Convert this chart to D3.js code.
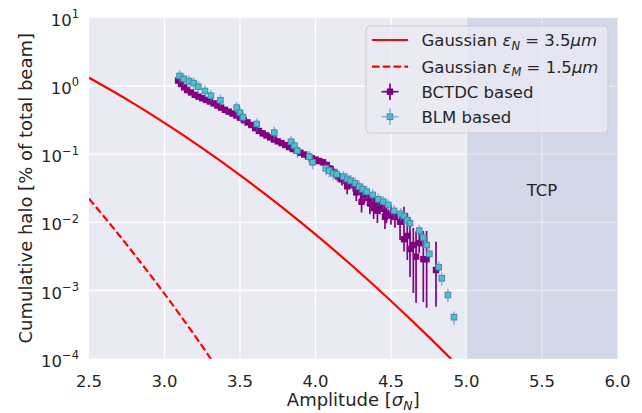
<!DOCTYPE html>
<html>
<head>
<meta charset="utf-8">
<script src="https://cdn.jsdelivr.net/npm/d3@7"></script>
<style>
    body { margin: 0; background: #fff; }
    svg text { font-family: "DejaVu Sans", sans-serif; fill: #262626; }
</style>
</head>
<body>
<svg id="chart" width="642" height="413"></svg>
<script>
// Gaussian reference curves
let gaussAmp = [2.5, 2.75, 3.0, 3.25, 3.5, 3.75, 4.0, 4.25, 4.5, 4.75, 5.0];
let gaussN = [1.32, 0.635, 0.287, 0.1226, 0.0492, 0.0186, 0.00664, 0.00223, 0.000703, 0.000209, 0.0000587];
let gaussMAmp = [2.5, 2.6, 2.7, 2.8, 2.9, 3.0, 3.1, 3.2, 3.3, 3.35];
let gaussM = [0.0222, 0.0121, 0.00648, 0.00341, 0.00176, 0.000895, 0.000447, 0.000219, 0.000105, 0.0000728];

// BCTDC based halo
let bctdcAmp = [
    3.090, 3.110, 3.130, 3.150, 3.175, 3.200, 3.225, 3.250, 3.275, 3.300,
    3.325, 3.350, 3.375, 3.400, 3.425, 3.450, 3.475, 3.500, 3.525, 3.550,
    3.575, 3.600, 3.625, 3.650, 3.675, 3.700, 3.725, 3.750, 3.775, 3.800,
    3.825, 3.850, 3.875, 3.900, 3.925, 3.950, 3.975, 4.000, 4.025, 4.050,
    4.075, 4.100, 4.125, 4.150, 4.175, 4.200, 4.210, 4.225, 4.250, 4.270,
    4.275, 4.300, 4.305, 4.325, 4.350, 4.360, 4.375, 4.385, 4.400, 4.410,
    4.425, 4.450, 4.460, 4.470, 4.500, 4.526, 4.560, 4.586, 4.608, 4.626,
    4.648, 4.666, 4.687, 4.714, 4.736, 4.798];
let bctdcHalo = [
    1.20, 1.07, 0.955, 0.871, 0.804, 0.741, 0.697, 0.661, 0.624, 0.592,
    0.556, 0.516, 0.481, 0.447, 0.420, 0.394, 0.369, 0.343, 0.316, 0.292,
    0.268, 0.241, 0.219, 0.202, 0.188, 0.176, 0.164, 0.154, 0.145, 0.136,
    0.127, 0.119, 0.112, 0.105, 0.0989, 0.0927, 0.0871, 0.0832, 0.0794, 0.0759,
    0.0692, 0.0610, 0.0537, 0.0473, 0.0427, 0.0403, 0.0339, 0.0376, 0.0351, 0.0275,
    0.0316, 0.0282, 0.0200, 0.0251, 0.0229, 0.0191, 0.0214, 0.0162, 0.0197, 0.0148,
    0.0181, 0.0158, 0.0120, 0.0138, 0.0126, 0.0120, 0.0102, 0.00565, 0.00632, 0.00407,
    0.00467, 0.00314, 0.00494, 0.00288, 0.00288, 0.00200];
let bctdcErrLo = [
    0.10, 0.09, 0.08, 0.07, 0.06, 0.06, 0.05, 0.05, 0.05, 0.05,
    0.04, 0.04, 0.04, 0.04, 0.03, 0.03, 0.03, 0.03, 0.03, 0.02,
    0.02, 0.02, 0.02, 0.02, 0.015, 0.015, 0.014, 0.013, 0.012, 0.012,
    0.011, 0.010, 0.010, 0.009, 0.009, 0.008, 0.008, 0.008, 0.008, 0.008,
    0.008, 0.009, 0.009, 0.008, 0.008, 0.008, 0.008, 0.007, 0.007, 0.007,
    0.007, 0.007, 0.006, 0.006, 0.006, 0.006, 0.006, 0.005, 0.005, 0.005,
    0.005, 0.005, 0.004, 0.0041, 0.0034, 0.0037, 0.0047, 0.00193, 0.00351, 0.00249,
    0.00375, 0.00248, 0.00138, 0.00220, 0.00232, 0.00142];
let bctdcErrHi = [
    0.12, 0.10, 0.09, 0.08, 0.07, 0.07, 0.06, 0.06, 0.06, 0.05,
    0.05, 0.05, 0.04, 0.04, 0.04, 0.04, 0.03, 0.03, 0.03, 0.03,
    0.02, 0.02, 0.02, 0.02, 0.02, 0.015, 0.015, 0.014, 0.013, 0.012,
    0.012, 0.011, 0.010, 0.010, 0.009, 0.009, 0.008, 0.008, 0.008, 0.008,
    0.008, 0.008, 0.008, 0.007, 0.007, 0.007, 0.007, 0.006, 0.006, 0.006,
    0.006, 0.006, 0.005, 0.005, 0.005, 0.005, 0.005, 0.005, 0.004, 0.004,
    0.004, 0.004, 0.004, 0.0032, 0.0054, 0.0032, 0.0026, 0.0113, 0.0074, 0.0075,
    0.0036, 0.0042, 0.0024, 0.0046, 0.0046, 0.0032];

// BLM based halo
let blmAmp = [
    3.100, 3.127, 3.162, 3.193, 3.224, 3.268, 3.308, 3.370, 3.478, 3.500,
    3.520, 3.611, 3.727, 3.838, 3.860, 3.880, 3.959, 3.981, 4.068, 4.091,
    4.118, 4.140, 4.184, 4.211, 4.233, 4.262, 4.290, 4.313, 4.339, 4.379,
    4.416, 4.449, 4.482, 4.520, 4.564, 4.586, 4.608, 4.626, 4.687, 4.714,
    4.736, 4.754, 4.816, 4.836, 4.877, 4.917];
let blmHalo = [
    1.40, 1.27, 1.18, 1.10, 0.977, 0.845, 0.721, 0.617, 0.481, 0.406,
    0.348, 0.277, 0.207, 0.152, 0.133, 0.112, 0.0919, 0.0760, 0.0621, 0.0573,
    0.0525, 0.0507, 0.0468, 0.0433, 0.0408, 0.0374, 0.0334, 0.0306, 0.0282, 0.0252,
    0.0218, 0.0201, 0.0180, 0.0147, 0.0133, 0.0124, 0.0108, 0.0097, 0.00755, 0.00597,
    0.00467, 0.00344, 0.00220, 0.00151, 0.000861, 0.000406];
let blmErr = [
    0.30, 0.27, 0.25, 0.23, 0.21, 0.18, 0.15, 0.13, 0.10, 0.09,
    0.075, 0.06, 0.045, 0.033, 0.029, 0.024, 0.020, 0.016, 0.013, 0.012,
    0.011, 0.011, 0.010, 0.0093, 0.0088, 0.0080, 0.0072, 0.0066, 0.0061, 0.0054,
    0.0047, 0.0043, 0.0039, 0.0032, 0.0029, 0.0027, 0.0023, 0.0021, 0.0016, 0.0013,
    0.0010, 0.00074, 0.00047, 0.00033, 0.00019, 0.000088];

let xTicks = [2.5, 3.0, 3.5, 4.0, 4.5, 5.0, 5.5, 6.0];
let yTicks = [1e-4, 1e-3, 1e-2, 1e-1, 1e0, 1e1];
let yTickExp = ["\u22124", "\u22123", "\u22122", "\u22121", "0", "1"];

let svg = d3.select("#chart");
let plot = { left: 89, right: 617.5, top: 17.8, bottom: 358.7 };

let x = d3.scaleLinear().domain([2.5, 6.0]).range([plot.left, plot.right]);
let y = d3.scaleLog().domain([1e-4, 10]).range([plot.bottom, plot.top]);

svg.append("defs").append("clipPath").attr("id", "clip")
    .append("rect")
    .attr("x", plot.left).attr("y", plot.top)
    .attr("width", plot.right - plot.left).attr("height", plot.bottom - plot.top);

// background
svg.append("rect")
    .attr("x", plot.left).attr("y", plot.top)
    .attr("width", plot.right - plot.left).attr("height", plot.bottom - plot.top)
    .attr("fill", "#eaeaf2");

// grid
let grid = svg.append("g").attr("stroke", "#fff").attr("stroke-width", 1.3);
grid.selectAll(".vg").data(xTicks.slice(1, -1)).enter().append("line")
    .attr("x1", d => x(d)).attr("x2", d => x(d))
    .attr("y1", plot.top).attr("y2", plot.bottom);
grid.selectAll(".hg").data(yTicks.slice(1, -1)).enter().append("line")
    .attr("x1", plot.left).attr("x2", plot.right)
    .attr("y1", d => y(d)).attr("y2", d => y(d));

// TCP region
svg.append("rect")
    .attr("x", x(5.0)).attr("y", plot.top)
    .attr("width", x(6.0) - x(5.0)).attr("height", plot.bottom - plot.top)
    .attr("fill", "#4c72b0").attr("fill-opacity", 0.15);

svg.append("text")
    .attr("x", x(5.5)).attr("y", y(0.03) + 6)
    .attr("text-anchor", "middle").attr("font-size", 16.5)
    .text("TCP");

let inner = svg.append("g").attr("clip-path", "url(#clip)");

// gaussian curves
let line = d3.line().x(d => x(d[0])).y(d => y(d[1])).curve(d3.curveMonotoneX);

inner.append("path")
    .datum(d3.zip(gaussAmp, gaussN))
    .attr("d", line)
    .attr("fill", "none").attr("stroke", "#ff0000").attr("stroke-width", 2.2);

inner.append("path")
    .datum(d3.zip(gaussMAmp, gaussM))
    .attr("d", line)
    .attr("fill", "none").attr("stroke", "#ff0000").attr("stroke-width", 2.2)
    .attr("stroke-dasharray", "7.5,3.3");

// BCTDC error bars + markers
let bctdc = bctdcAmp.map((a, i) => ({ a: a, v: bctdcHalo[i], lo: bctdcErrLo[i], hi: bctdcErrHi[i] }));

inner.append("g").selectAll("line").data(bctdc).enter().append("line")
    .attr("x1", d => x(d.a)).attr("x2", d => x(d.a))
    .attr("y1", d => y(d.v + d.hi))
    .attr("y2", d => y(Math.max(d.v - d.lo, 1e-6)))
    .attr("stroke", "#800080").attr("stroke-width", 1.7);

inner.append("g").selectAll("rect").data(bctdc).enter().append("rect")
    .attr("x", d => x(d.a) - 3.2).attr("y", d => y(d.v) - 3.2)
    .attr("width", 6.4).attr("height", 6.4)
    .attr("fill", "#800080");

// BLM error bars + markers
let blm = blmAmp.map((a, i) => ({ a: a, v: blmHalo[i], e: blmErr[i] }));

inner.append("g").selectAll("line").data(blm).enter().append("line")
    .attr("x1", d => x(d.a)).attr("x2", d => x(d.a))
    .attr("y1", d => y(d.v + d.e))
    .attr("y2", d => y(d.v - d.e))
    .attr("stroke", "#4c72b0").attr("stroke-opacity", 0.5).attr("stroke-width", 1.6);

inner.append("g").selectAll("rect").data(blm).enter().append("rect")
    .attr("x", d => x(d.a) - 2.8).attr("y", d => y(d.v) - 2.8)
    .attr("width", 5.6).attr("height", 5.6)
    .attr("fill", "#48c3c6").attr("stroke", "#4a86b4").attr("stroke-width", 1);

// tick labels
svg.append("g").selectAll("text").data(xTicks).enter().append("text")
    .attr("x", d => x(d)).attr("y", plot.bottom + 28)
    .attr("text-anchor", "middle").attr("font-size", 16.5)
    .text(d => d.toFixed(1));

let yl = svg.append("g").selectAll("text").data(yTicks).enter().append("text")
    .attr("x", plot.left - 10).attr("y", d => y(d) + 8)
    .attr("text-anchor", "end").attr("font-size", 16.5);
yl.append("tspan").text("10");
yl.append("tspan").attr("font-size", 11.5).attr("dy", -7.5).text((d, i) => yTickExp[i]);

// axis labels
let xl = svg.append("text")
    .attr("x", (plot.left + plot.right) / 2).attr("y", 406)
    .attr("text-anchor", "middle").attr("font-size", 18);
xl.append("tspan").text("Amplitude [");
xl.append("tspan").attr("font-style", "italic").text("σ");
xl.append("tspan").attr("font-style", "italic").attr("font-size", 12.5).attr("dy", 4).text("N");
xl.append("tspan").attr("dy", -4).text("]");

svg.append("text")
    .attr("transform", "translate(32," + ((plot.top + plot.bottom) / 2) + ") rotate(-90)")
    .attr("text-anchor", "middle").attr("font-size", 18)
    .text("Cumulative halo [% of total beam]");

// legend
let lg = svg.append("g");
lg.append("rect")
    .attr("x", 366).attr("y", 26).attr("width", 242).attr("height", 107)
    .attr("rx", 4).attr("fill", "#eaeaf2").attr("fill-opacity", 0.8)
    .attr("stroke", "#cccccc").attr("stroke-width", 1);

let rows = [40, 66.7, 91.7, 116.7];

lg.append("line").attr("x1", 372).attr("x2", 408).attr("y1", rows[0]).attr("y2", rows[0])
    .attr("stroke", "#ff0000").attr("stroke-width", 2.2);
lg.append("line").attr("x1", 372).attr("x2", 408).attr("y1", rows[1]).attr("y2", rows[1])
    .attr("stroke", "#ff0000").attr("stroke-width", 2.2).attr("stroke-dasharray", "7.5,3.3");

lg.append("line").attr("x1", 381.5).attr("x2", 398.5).attr("y1", rows[2]).attr("y2", rows[2])
    .attr("stroke", "#800080").attr("stroke-width", 1.7);
lg.append("line").attr("x1", 390).attr("x2", 390).attr("y1", rows[2] - 8.3).attr("y2", rows[2] + 8.3)
    .attr("stroke", "#800080").attr("stroke-width", 1.7);
lg.append("rect").attr("x", 390 - 3.2).attr("y", rows[2] - 3.2).attr("width", 6.4).attr("height", 6.4)
    .attr("fill", "#800080");

lg.append("line").attr("x1", 381.5).attr("x2", 398.5).attr("y1", rows[3]).attr("y2", rows[3])
    .attr("stroke", "#4c72b0").attr("stroke-opacity", 0.5).attr("stroke-width", 1.6);
lg.append("line").attr("x1", 390).attr("x2", 390).attr("y1", rows[3] - 8.3).attr("y2", rows[3] + 8.3)
    .attr("stroke", "#4c72b0").attr("stroke-opacity", 0.5).attr("stroke-width", 1.6);
lg.append("rect").attr("x", 390 - 2.8).attr("y", rows[3] - 2.8).attr("width", 5.6).attr("height", 5.6)
    .attr("fill", "#48c3c6").attr("stroke", "#4a86b4").attr("stroke-width", 1);

function gaussLabel(row, sub, val) {
    let t = lg.append("text").attr("x", 421.5).attr("y", row + 6).attr("font-size", 16.5);
    t.append("tspan").text("Gaussian ");
    t.append("tspan").attr("font-style", "italic").text("ε");
    t.append("tspan").attr("font-style", "italic").attr("font-size", 11.5).attr("dy", 3.5).text(sub);
    t.append("tspan").attr("dy", -3.5).text(" = " + val);
    t.append("tspan").attr("font-style", "italic").text("μm");
}
gaussLabel(rows[0], "N", "3.5");
gaussLabel(rows[1], "M", "1.5");

lg.append("text").attr("x", 421.5).attr("y", rows[2] + 6).attr("font-size", 16.5).text("BCTDC based");
lg.append("text").attr("x", 421.5).attr("y", rows[3] + 6).attr("font-size", 16.5).text("BLM based");
</script>
</body>
</html>
